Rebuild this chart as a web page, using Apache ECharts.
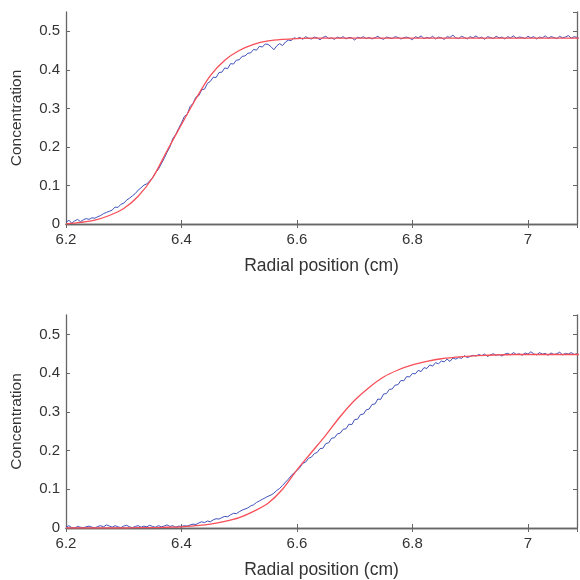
<!DOCTYPE html>
<html>
<head>
<meta charset="utf-8">
<script src="https://cdn.jsdelivr.net/npm/echarts@6/dist/echarts.min.js"></script>
<style>
  html, body { margin: 0; padding: 0; background: #fff; }
  #chart { width: 580px; height: 580px; }
</style>
</head>
<body>
<div id="chart"></div>
<script>
// Radial positions of the measured scans (cm)
const radialPos = [
  6.200,6.205,6.210,6.215,6.220,6.225,6.230,6.235,6.240,6.245,
  6.250,6.255,6.260,6.265,6.270,6.275,6.280,6.285,6.290,6.295,
  6.300,6.305,6.310,6.315,6.320,6.325,6.330,6.335,6.340,6.345,
  6.350,6.355,6.360,6.365,6.370,6.375,6.380,6.385,6.390,6.395,
  6.400,6.405,6.410,6.415,6.420,6.425,6.430,6.435,6.440,6.445,
  6.450,6.455,6.460,6.465,6.470,6.475,6.480,6.485,6.490,6.495,
  6.500,6.505,6.510,6.515,6.520,6.525,6.530,6.535,6.540,6.545,
  6.550,6.555,6.560,6.565,6.570,6.575,6.580,6.585,6.590,6.595,
  6.600,6.605,6.610,6.615,6.620,6.625,6.630,6.635,6.640,6.645,
  6.650,6.655,6.660,6.665,6.670,6.675,6.680,6.685,6.690,6.695,
  6.700,6.705,6.710,6.715,6.720,6.725,6.730,6.735,6.740,6.745,
  6.750,6.755,6.760,6.765,6.770,6.775,6.780,6.785,6.790,6.795,
  6.800,6.805,6.810,6.815,6.820,6.825,6.830,6.835,6.840,6.845,
  6.850,6.855,6.860,6.865,6.870,6.875,6.880,6.885,6.890,6.895,
  6.900,6.905,6.910,6.915,6.920,6.925,6.930,6.935,6.940,6.945,
  6.950,6.955,6.960,6.965,6.970,6.975,6.980,6.985,6.990,6.995,
  7.000,7.005,7.010,7.015,7.020,7.025,7.030,7.035,7.040,7.045,
  7.050,7.055,7.060,7.065,7.070,7.075,7.080,7.085
];

// Measured concentration, top panel
const measuredTop = [
  0.004,0.010,0.002,0.008,0.012,0.006,0.011,0.014,0.012,0.016,
  0.015,0.019,0.022,0.027,0.030,0.033,0.036,0.044,0.043,0.051,
  0.054,0.062,0.067,0.073,0.079,0.088,0.094,0.101,0.104,0.112,
  0.120,0.133,0.142,0.156,0.170,0.186,0.200,0.222,0.232,0.248,
  0.262,0.279,0.285,0.305,0.313,0.329,0.333,0.348,0.350,0.365,
  0.370,0.381,0.380,0.393,0.394,0.405,0.403,0.416,0.415,0.425,
  0.426,0.435,0.436,0.443,0.444,0.453,0.451,0.461,0.459,0.467,
  0.466,0.460,0.452,0.462,0.468,0.463,0.472,0.477,0.476,0.483,
  0.481,0.484,0.479,0.486,0.482,0.480,0.485,0.483,0.478,0.484,
  0.487,0.481,0.483,0.479,0.485,0.482,0.486,0.480,0.484,0.483,
  0.477,0.485,0.482,0.486,0.481,0.484,0.480,0.483,0.487,0.482,
  0.479,0.485,0.483,0.481,0.486,0.484,0.480,0.483,0.485,0.482,
  0.478,0.486,0.483,0.488,0.481,0.484,0.482,0.487,0.480,0.485,
  0.483,0.479,0.486,0.484,0.490,0.483,0.481,0.487,0.484,0.480,
  0.486,0.483,0.488,0.482,0.485,0.479,0.486,0.484,0.481,0.487,
  0.483,0.485,0.480,0.486,0.483,0.488,0.482,0.485,0.484,0.481,
  0.487,0.483,0.486,0.480,0.485,0.483,0.488,0.482,0.486,0.484,
  0.481,0.487,0.483,0.485,0.489,0.482,0.486,0.484
];

// Measured concentration, bottom panel
const measuredBottom = [
  0.002,0.006,0.001,0.000,0.004,0.002,0.001,0.003,0.005,0.002,
  0.000,0.004,0.006,0.003,0.008,0.005,0.002,0.006,0.003,0.001,
  0.005,0.007,0.003,0.001,0.004,0.006,0.002,0.005,0.003,0.007,
  0.004,0.002,0.006,0.003,0.005,0.008,0.004,0.006,0.002,0.005,
  0.004,0.006,0.005,0.008,0.010,0.009,0.013,0.016,0.014,0.018,
  0.016,0.021,0.024,0.023,0.027,0.030,0.029,0.034,0.038,0.037,
  0.042,0.046,0.049,0.052,0.057,0.060,0.066,0.070,0.074,0.078,
  0.082,0.085,0.090,0.097,0.102,0.110,0.118,0.126,0.135,0.143,
  0.148,0.156,0.167,0.170,0.180,0.183,0.192,0.195,0.205,0.206,
  0.218,0.220,0.232,0.233,0.243,0.245,0.255,0.256,0.268,0.267,
  0.280,0.281,0.293,0.294,0.305,0.307,0.319,0.320,0.333,0.332,
  0.346,0.347,0.358,0.359,0.369,0.370,0.381,0.380,0.391,0.390,
  0.399,0.398,0.407,0.404,0.414,0.412,0.421,0.418,0.427,0.424,
  0.431,0.429,0.436,0.430,0.439,0.436,0.440,0.438,0.445,0.440,
  0.443,0.446,0.444,0.448,0.445,0.449,0.443,0.447,0.450,0.446,
  0.448,0.444,0.449,0.451,0.447,0.453,0.448,0.450,0.446,0.452,
  0.449,0.455,0.450,0.447,0.453,0.449,0.451,0.446,0.452,0.448,
  0.450,0.454,0.447,0.451,0.449,0.453,0.448,0.450
];

// Fitted model curves
const fitPos = [
  6.200,6.225,6.250,6.275,6.300,6.325,6.350,6.375,6.400,6.425,
  6.450,6.475,6.500,6.525,6.550,6.575,6.600,6.625,6.650,6.675,
  6.700,6.725,6.750,6.775,6.800,6.825,6.850,6.875,6.900,6.925,
  6.950,6.975,7.000,7.025,7.050,7.075,7.100
];
const fitTop = [
  0.000,0.004,0.010,0.022,0.040,0.072,0.120,0.190,0.258,0.325,
  0.385,0.425,0.450,0.466,0.475,0.479,0.481,0.482,0.482,0.482,
  0.482,0.482,0.482,0.482,0.482,0.482,0.482,0.482,0.482,0.482,
  0.482,0.482,0.482,0.482,0.482,0.482,0.482
];
const fitBottom = [
  0.000,0.000,0.000,0.000,0.000,0.001,0.001,0.002,0.003,0.006,
  0.010,0.017,0.027,0.043,0.064,0.100,0.150,0.195,0.240,0.288,
  0.330,0.363,0.390,0.408,0.421,0.430,0.437,0.441,0.444,0.446,
  0.447,0.448,0.448,0.448,0.448,0.448,0.448
];

const xTicks = [6.2, 6.4, 6.6, 6.8, 7];
const yTicks = [0, 0.1, 0.2, 0.3, 0.4, 0.5];

const FONT = "Liberation Sans";
const frameColor = "#666";
const textColor = "#333";

const zip = (xs, ys) => xs.map((x, i) => [x, ys[i]]);
const onTick = (list, v) => list.some(t => Math.abs(t - v) < 1e-6);

let xAxisFor = (gridIndex, top) => ({
  type: "value",
  gridIndex: gridIndex,
  position: top ? "top" : "bottom",
  min: 6.2,
  max: 7.085,
  interval: 0.2,
  name: top ? "" : "Radial position (cm)",
  nameLocation: "middle",
  nameGap: 33,
  nameTextStyle: { fontFamily: FONT, fontSize: 17.5, color: textColor },
  axisLine: { show: true, lineStyle: { color: frameColor, width: 1.3 } },
  axisTick: { show: true, inside: true, length: 4, lineStyle: { color: frameColor } },
  axisLabel: {
    show: !top,
    margin: 8,
    fontFamily: FONT,
    fontSize: 15,
    color: textColor,
    showMaxLabel: false,
    formatter: v => (onTick(xTicks, v) ? String(+v.toFixed(1)) : "")
  },
  splitLine: { show: false }
});

let yAxisFor = (gridIndex, right) => ({
  type: "value",
  gridIndex: gridIndex,
  position: right ? "right" : "left",
  min: 0,
  max: 0.55,
  interval: 0.1,
  name: right ? "" : "Concentration",
  nameLocation: "middle",
  nameGap: 41,
  nameRotate: 90,
  nameTextStyle: { fontFamily: FONT, fontSize: 15.5, color: textColor },
  axisLine: { show: true, lineStyle: { color: frameColor, width: 1.3 } },
  axisTick: { show: true, inside: true, length: 4, lineStyle: { color: frameColor } },
  axisLabel: {
    show: !right,
    margin: 6,
    fontFamily: FONT,
    fontSize: 15,
    color: textColor,
    showMaxLabel: false,
    formatter: v => (onTick(yTicks, v) ? String(+v.toFixed(1)) : "")
  },
  splitLine: { show: false }
});

let lineSeries = (data, xi, yi, color, width, smooth) => ({
  type: "line",
  xAxisIndex: xi,
  yAxisIndex: yi,
  data: data,
  showSymbol: false,
  symbol: "none",
  silent: true,
  animation: false,
  smooth: smooth,
  lineStyle: { color: color, width: width }
});

const blue = "#3f51b8";
const red = "#f74f57";

const chart = echarts.init(document.getElementById("chart"), null, { renderer: "canvas" });
chart.setOption({
  backgroundColor: "#fff",
  animation: false,
  grid: [
    { left: 66, right: 3, top: 12, height: 212 },
    { left: 66, right: 3, top: 315, height: 213 }
  ],
  xAxis: [xAxisFor(0, false), xAxisFor(0, true), xAxisFor(1, false), xAxisFor(1, true)],
  yAxis: [yAxisFor(0, false), yAxisFor(0, true), yAxisFor(1, false), yAxisFor(1, true)],
  series: [
    lineSeries(zip(radialPos, measuredTop), 0, 0, blue, 1, false),
    lineSeries(zip(fitPos, fitTop), 0, 0, red, 1.3, 0.3),
    lineSeries(zip(radialPos, measuredBottom), 2, 2, blue, 1, false),
    lineSeries(zip(fitPos, fitBottom), 2, 2, red, 1.3, 0.3)
  ]
});
</script>
</body>
</html>
